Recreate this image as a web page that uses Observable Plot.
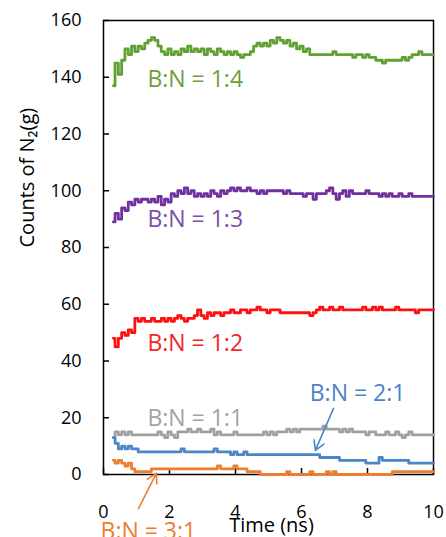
<!DOCTYPE html>
<html><head><meta charset="utf-8">
<script src="https://cdn.jsdelivr.net/npm/d3@7"></script>
<script src="https://cdn.jsdelivr.net/npm/@observablehq/plot@0.6"></script>
<style>body{margin:0;background:#fff}</style>
</head><body><div id="chart"></div>
<script>
// sampling times (ns): 0.3 .. 10.0 every 0.1
const times = d3.range(3, 101).map(i => i / 10);

const seriesNames = ["B:N = 1:4", "B:N = 1:3", "B:N = 1:2", "B:N = 1:1", "B:N = 2:1", "B:N = 3:1"];

const countsBN14 = [
  137,145,141,146,150,148,151,149,151,150,
  152,153,154,153,151,149,148,150,148,149,
  148,150,149,151,149,150,149,150,148,150,
  149,148,150,149,148,149,148,149,148,147,
  148,148,149,151,152,151,152,151,153,152,
  154,153,152,153,151,152,150,151,149,150,
  148,148,148,148,148,148,148,149,148,148,
  148,148,148,147,148,148,147,148,147,147,
  146,146,145,146,146,146,146,146,147,146,
  147,148,148,149,148,148,148,148];
const countsBN13 = [
  89,92,90,94,93,96,95,97,96,97,
  97,96,97,96,98,95,97,96,99,98,
  100,99,101,99,100,98,99,98,99,98,
  100,99,98,100,99,100,101,100,101,100,
  100,101,100,100,99,100,99,100,100,100,
  100,100,99,100,99,99,99,99,98,99,
  99,97,99,99,99,100,101,99,97,99,
  100,98,100,99,99,99,99,100,99,99,
  99,98,99,98,99,98,98,99,98,98,
  99,98,98,98,98,98,98,98];
const countsBN12 = [
  48,45,48,50,49,51,50,55,54,55,
  54,54,55,54,54,55,54,55,54,55,
  56,55,54,55,55,56,58,56,55,57,
  56,57,57,56,57,57,58,57,57,58,
  58,57,58,58,59,58,58,57,58,58,
  58,57,57,57,57,57,57,57,57,57,
  56,57,58,59,58,58,59,58,58,59,
  58,58,58,58,58,58,59,58,58,59,
  58,59,58,58,58,58,59,58,58,58,
  58,58,57,58,58,58,58,58];
const countsBN11 = [
  13,15,14,15,14,15,14,14,14,14,
  14,14,14,14,15,14,13,15,14,13,
  15,15,15,16,15,15,16,15,15,15,
  16,14,15,14,14,14,14,15,14,14,
  14,14,14,14,14,14,15,14,15,14,
  15,15,15,16,15,16,15,16,16,16,
  16,16,16,16,17,16,16,16,16,15,
  16,15,16,15,15,15,15,14,15,15,
  14,14,14,15,14,14,15,14,13,14,
  15,14,14,14,14,14,14,14];
const countsBN21 = [
  13,11,9,10,9,10,9,9,8,8,
  8,8,8,8,8,8,8,8,8,8,
  8,9,8,8,8,8,8,8,8,8,
  8,9,8,8,8,8,7,8,7,7,
  8,7,7,7,7,7,7,7,7,7,
  7,7,7,7,7,7,7,7,7,7,
  7,7,7,6,6,6,6,6,6,5,
  5,5,5,5,5,5,5,4,4,4,
  4,6,5,5,5,5,5,5,5,5,
  4,4,4,4,4,4,4,4];
const countsBN31 = [
  5,4,5,4,3,4,2,1,1,1,
  1,1,2,2,2,2,2,2,2,2,
  2,2,2,2,2,2,2,2,2,2,
  2,2,3,2,2,2,2,3,2,2,
  2,1,1,1,1,0,0,0,0,0,
  0,0,0,1,0,0,0,0,0,0,
  1,0,0,0,0,1,0,1,0,0,
  0,0,0,0,0,0,0,0,0,0,
  0,0,0,0,0,1,1,1,1,1,
  1,1,1,1,1,1,1,1];
const seriesValues = [countsBN14, countsBN13, countsBN12, countsBN11, countsBN21, countsBN31];

const lineColors = ["#5fa232", "#7030a0", "#ff1010", "#a0a0a0", "#4a86c8", "#ed7d31"];
const textColors = ["#6e9e3e", "#7a4fa8", "#f0262a", "#a3a3a3", "#4a84cc", "#ed7d31"];

// label anchors (data units)
const labelT = [1.33, 1.33, 1.33, 1.33, 6.25, -0.09];
const labelCount = [139, 90, 46.1, 19.6, 28.5, -20];

// arrows (from label to curve), data units
const arrowSeries = [4, 5];
const arrowT1 = [6.97, 1.06], arrowC1 = [23.3, -12];
const arrowT2 = [6.42, 1.6], arrowC2 = [8.5, 0.4];

const yTicks = [0, 20, 40, 60, 80, 100, 120, 140, 160];
const xTicks = [0, 2, 4, 6, 8, 10];
const yTitle = "Counts of N\u2082(g)";
const xTitle = "Time (ns)";

const rows = seriesNames.flatMap((s, i) => seriesValues[i].map((v, j) => ({series: s, t: times[j], v, color: lineColors[i]})));
const labels = seriesNames.map((s, i) => ({name: s, t: labelT[i], v: labelCount[i], color: textColors[i]}));
const arrows = arrowSeries.map((k, i) => ({t1: arrowT1[i], c1: arrowC1[i], t2: arrowT2[i], c2: arrowC2[i], color: lineColors[k]}));

const chart = Plot.plot({
  width: 446, height: 537,
  marginLeft: 103, marginRight: 13, marginTop: 20, marginBottom: 63,
  x: {domain: [0, 10], label: null},
  y: {domain: [0, 160], label: null},
  color: {type: "identity"},
  style: {fontFamily: "'Open Sans', sans-serif", fontSize: "18px", color: "#000", background: "#fff", overflow: "visible"},
  marks: [
    Plot.axisY(yTicks, {tickSize: 0, tickPadding: 22, fontSize: 18, label: null}),
    Plot.axisX(xTicks, {tickSize: 0, tickPadding: 31, fontSize: 18, label: null}),
    Plot.tickY(yTicks, {y: d => d, insetRight: 324, stroke: "#000", strokeWidth: 1.5}),
    Plot.tickX(xTicks, {x: d => d, insetTop: 448, stroke: "#000", strokeWidth: 1.5}),
    Plot.frame({stroke: "#000", strokeWidth: 1.5}),
    Plot.line(rows, {x: "t", y: "v", z: "series", stroke: "color", curve: "step", strokeWidth: 2.8}),
    Plot.text(labels, {x: "t", y: "v", text: "name", fill: "color", textAnchor: "start", fontSize: 23}),
    Plot.arrow(arrows, {x1: "t1", y1: "c1", x2: "t2", y2: "c2", stroke: "color", strokeWidth: 1.6, headLength: 10}),
    Plot.text([yTitle], {frameAnchor: "left", dx: -76, rotate: -90, fontSize: 20}),
    Plot.text([xTitle], {frameAnchor: "bottom", dx: 3, dy: 57, fontSize: 20})
  ]
});
document.getElementById("chart").appendChild(chart);
</script>
</body></html>
